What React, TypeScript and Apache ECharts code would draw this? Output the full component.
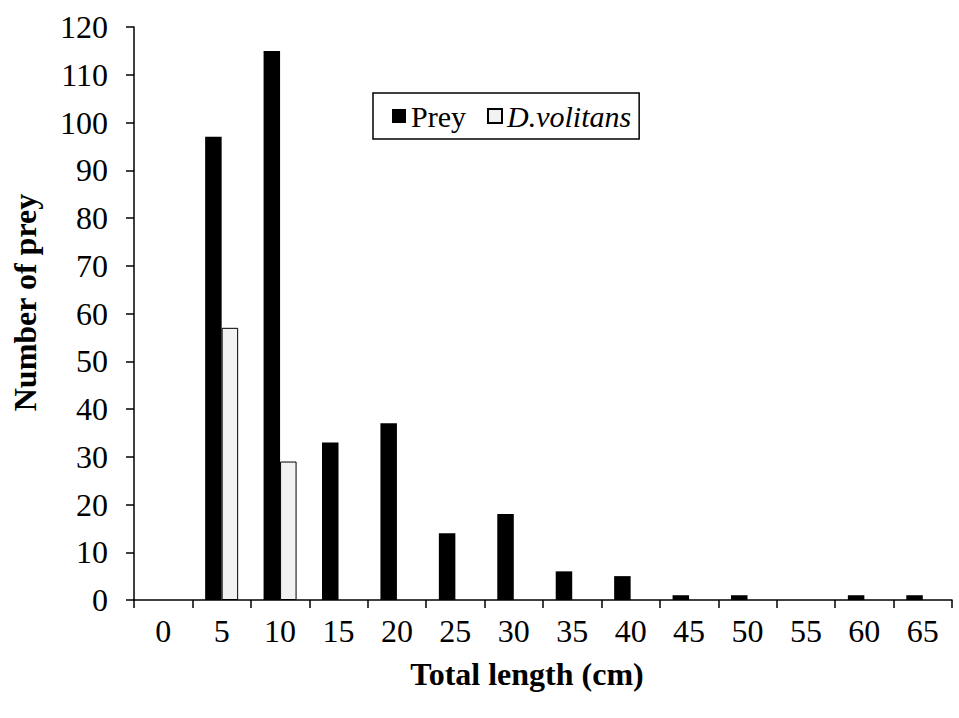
import React, { useEffect, useRef } from "react";
import * as echarts from "echarts";

const categories = ["0", "5", "10", "15", "20", "25", "30", "35", "40", "45", "50", "55", "60", "65"];
const preyValues = [0, 97, 115, 33, 37, 14, 18, 6, 5, 1, 1, 0, 1, 1];
const volitansValues = [null, 57, 29, null, null, null, null, null, null, null, null, null, null, null];
const yMin = 0;
const yMax = 120;
const yInterval = 10;

const FONT = "'Times New Roman', 'Liberation Serif', serif";

export default function App() {
  const ref = useRef<HTMLDivElement>(null);
  useEffect(() => {
    document.body.style.margin = "0";
    const chart = echarts.init(ref.current!, null, { renderer: "svg" });
    chart.setOption({
      animation: false,
      backgroundColor: "#ffffff",
      textStyle: { fontFamily: FONT, color: "#000" },
      grid: { left: 134, right: 7, top: 27, bottom: 118, containLabel: false, outerBoundsMode: "none" },
      legend: {
        left: 373,
        top: 93,
        orient: "horizontal",
        borderColor: "#000",
        borderWidth: 1.5,
        padding: [8, 8, 8, 19],
        itemGap: 21,
        itemWidth: 14,
        itemHeight: 14,
        icon: "rect",
        textStyle: { fontSize: 30, fontFamily: FONT, color: "#000" },
        data: [
          { name: "Prey" },
          { name: "D.volitans", textStyle: { fontStyle: "italic" } },
        ],
      },
      xAxis: {
        type: "category",
        data: categories,
        boundaryGap: true,
        name: "Total length (cm)",
        nameLocation: "middle",
        nameGap: 58,
        nameTextStyle: { fontSize: 32, fontWeight: "bold", fontFamily: FONT, color: "#000", padding: [0, 32, 0, 0] },
        axisLine: { show: true, lineStyle: { color: "#000", width: 1.5 } },
        axisTick: { show: true, length: 8, inside: false, alignWithLabel: false, lineStyle: { color: "#000", width: 1.5 } },
        axisLabel: { fontSize: 32, fontFamily: FONT, color: "#000", margin: 15 },
        splitLine: { show: false },
      },
      yAxis: {
        type: "value",
        min: yMin,
        max: yMax,
        interval: yInterval,
        name: "Number of prey",
        nameLocation: "middle",
        nameGap: 93,
        nameRotate: 90,
        nameTextStyle: { fontSize: 32, fontWeight: "bold", fontFamily: FONT, color: "#000", padding: [0, 0, 0, 22] },
        axisLine: { show: true, lineStyle: { color: "#000", width: 1.5 } },
        axisTick: { show: true, length: 8, inside: false, lineStyle: { color: "#000", width: 1.5 } },
        axisLabel: { fontSize: 32, fontFamily: FONT, color: "#000", margin: 26 },
        splitLine: { show: false },
      },
      series: [
        {
          name: "Prey",
          type: "bar",
          data: preyValues,
          barWidth: 16.5,
          barGap: "0%",
          itemStyle: { color: "#000", borderWidth: 0 },
        },
        {
          name: "D.volitans",
          type: "bar",
          data: volitansValues,
          barWidth: 16.5,
          barGap: "0%",
          itemStyle: { color: "#f2f2f2", borderColor: "#000", borderWidth: 1 },
        },
      ],
    });
    return () => chart.dispose();
  }, []);
  return <div ref={ref} style={{ position: "absolute", left: 0, top: 0, width: 959, height: 718 }} />;
}
